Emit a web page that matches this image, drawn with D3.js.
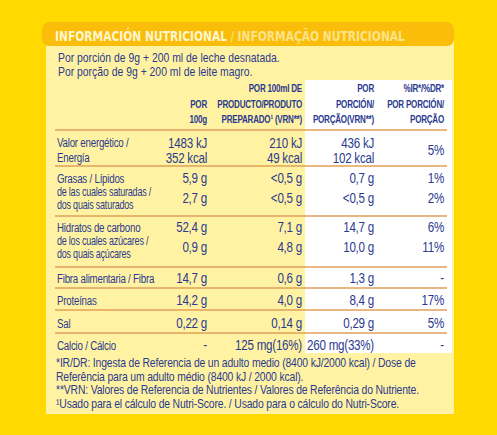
<!DOCTYPE html>
<html><head><meta charset="utf-8">
<script src="https://cdn.jsdelivr.net/npm/d3@7"></script>
<style>body{margin:0;background:#FFD900;}</style>
</head><body><div id="chart"></div>
<script>
const rowLabels = [
  ['Valor energético /', 'Energía'],
  ['Grasas / Lípidos'],
  ['de las cuales saturadas /', 'dos quais saturados'],
  ['Hidratos de carbono'],
  ['de los cuales azúcares /', 'dos quais açúcares'],
  ['Fibra alimentaria / Fibra'],
  ['Proteínas'],
  ['Sal'],
  ['Calcio / Cálcio']
];
const per100g = [['1483 kJ', '352 kcal'], ['5,9 g'], ['2,7 g'], ['52,4 g'], ['0,9 g'], ['14,7 g'], ['14,2 g'], ['0,22 g'], ['-']];
const perPrepared = [['210 kJ', '49 kcal'], ['<0,5 g'], ['<0,5 g'], ['7,1 g'], ['4,8 g'], ['0,6 g'], ['4,0 g'], ['0,14 g'], ['125 mg(16%)']];
const perPortion = [['436 kJ', '102 kcal'], ['0,7 g'], ['<0,5 g'], ['14,7 g'], ['10,0 g'], ['1,3 g'], ['8,4 g'], ['0,29 g'], ['260 mg(33%)']];
const percentIR = [['5%'], ['1%'], ['2%'], ['6%'], ['11%'], ['-'], ['17%'], ['5%'], ['-']];
const rowCenters = [150, 178, 198, 227, 247, 278, 300, 323, 345];
const sub = [false, false, true, false, true, false, false, false, false];
const separators = [130, 166, 216, 267, 288, 310, 333];
const colHeaders = [
  ['', 'POR', '100g'],
  ['POR 100ml DE', 'PRODUCTO/PRODUTO', 'PREPARADO¹ (VRN**)'],
  ['POR', 'PORCIÓN/', 'PORÇÃO(VRN**)'],
  ['%IR*/%DR*', 'POR PORCIÓN/', 'PORÇÃO']
];
const footnotes = [
  '*IR/DR: Ingesta de Referencia de un adulto medio (8400 kJ/2000 kcal) / Dose de',
  'Referência para um adulto médio (8400 kJ / 2000 kcal).',
  '**VRN: Valores de Referencia de Nutrientes / Valores de Referência do Nutriente.',
  '¹Usado para el cálculo de Nutri-Score.  / Usado para o cálculo do Nutri-Score.'
];

const W = 497, H = 435;
const font = "'Liberation Sans',Arial,sans-serif";
const blue = '#2B3A8F';
const svg = d3.select('#chart').append('svg').attr('width', W).attr('height', H)
  .style('font-family', font);

// narrow lettering: squeeze each text horizontally around its anchor
function put(sel, fx, fy, sx) {
  return sel.attr('transform', (d, i) => 'translate(' + fx(d, i) + ',' + fy(d, i) + ') scale(' + sx + ',1)');
}

svg.append('rect').attr('width', W).attr('height', H).attr('fill', '#FFD900');
svg.append('rect').attr('x', 46).attr('y', 27).attr('width', 408).attr('height', 387)
  .attr('fill', '#FFF3A3');
svg.append('rect').attr('x', 42).attr('y', 22).attr('width', 412).attr('height', 24).attr('rx', 7)
  .attr('fill', '#F9BD0A');
svg.append('rect').attr('x', 305).attr('y', 80).attr('width', 147).attr('height', 273).attr('fill', '#FFFFFF');

const title = svg.append('text').attr('transform', 'translate(55,41) scale(0.82,1)').attr('font-size', 14.5)
  .attr('font-weight', 'bold').attr('font-family', "'DejaVu Sans Condensed',sans-serif");
title.append('tspan').attr('fill', '#FFF6D0').text('INFORMACIÓN NUTRICIONAL');
title.append('tspan').attr('fill', '#FCE38A').attr('font-weight', 'normal').text(' / ');
title.append('tspan').attr('fill', '#FCE38A').text('INFORMAÇÃO NUTRICIONAL');

put(svg.selectAll('.intro').data(['Por porción de 9g + 200 ml de leche desnatada.', 'Por porção de 9g + 200 ml de leite magro.'])
  .enter().append('text'), () => 58, (d, i) => 62 + i * 14, 0.8)
  .attr('font-size', 13).attr('fill', blue).text(d => d);

const colRight = d3.scaleOrdinal().domain([0, 1, 2, 3]).range([207, 302, 374, 444]);
const hdrY = d3.scaleLinear().domain([0, 2]).range([92, 123]);

colHeaders.forEach((lines, c) => {
  put(svg.selectAll('.h' + c).data(lines).enter().append('text'), () => colRight(c), (d, i) => hdrY(i), 0.7)
    .attr('text-anchor', 'end').attr('font-size', 11.5).attr('font-weight', 'bold').attr('letter-spacing', -0.3)
    .attr('fill', blue).text(d => d);
});

svg.selectAll('.sep').data(separators).enter().append('line')
  .attr('x1', 55).attr('x2', 447).attr('y1', d => d).attr('y2', d => d)
  .attr('stroke', '#E0A05A').attr('stroke-width', 1.5);

rowLabels.forEach((lines, r) => {
  const n = lines.length, lh = sub[r] ? 13 : 14.5;
  put(svg.selectAll('.l' + r).data(lines).enter().append('text'),
    () => 57, (d, i) => rowCenters[r] + (i - (n - 1) / 2) * lh + 4.5, 0.72)
    .attr('font-size', sub[r] ? 12.5 : 13.5).attr('letter-spacing', -0.3).attr('fill', blue).text(d => d);
});

[per100g, perPrepared, perPortion, percentIR].forEach((col, c) => {
  col.forEach((lines, r) => {
    const n = lines.length;
    put(svg.selectAll('.v' + c + '_' + r).data(lines).enter().append('text'),
      () => colRight(c), (d, i) => rowCenters[r] + (i - (n - 1) / 2) * 15 + 5, 0.8)
      .attr('text-anchor', 'end').attr('font-size', 14.5).attr('letter-spacing', -0.3)
      .attr('fill', blue).text(d => d);
  });
});

put(svg.selectAll('.foot').data(footnotes).enter().append('text'),
  () => 56, (d, i) => 367 + i * 13.5, 0.8)
  .attr('font-size', 13).attr('letter-spacing', -0.2).attr('fill', blue).text(d => d);
</script></body></html>
